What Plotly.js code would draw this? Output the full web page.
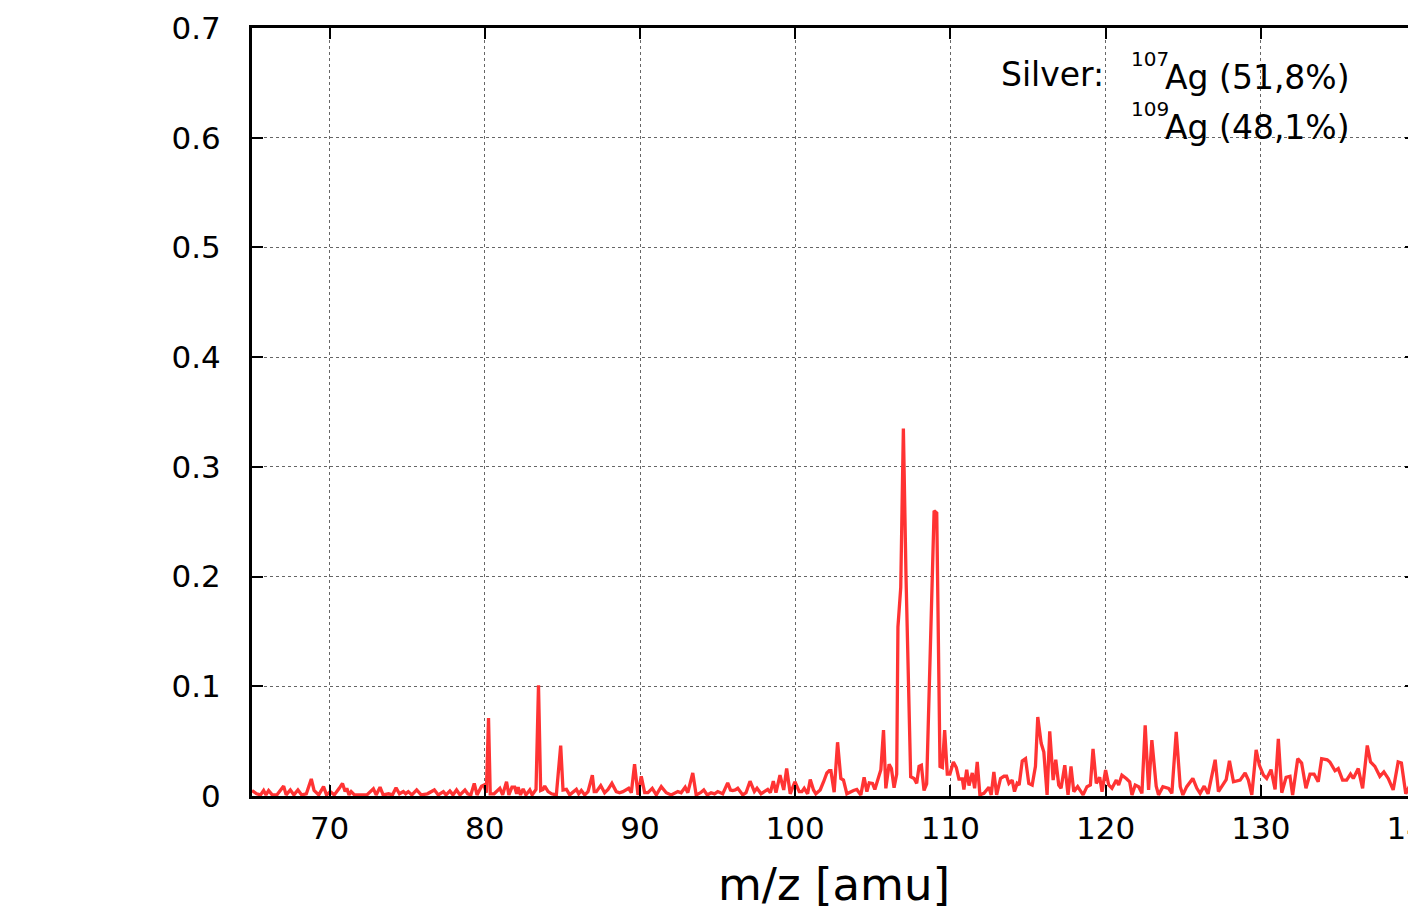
<!DOCTYPE html>
<html>
<head>
<meta charset="utf-8">
<script src="https://cdn.plot.ly/plotly-3.0.1.min.js"></script>
<style>
html,body{margin:0;padding:0;background:#fff;overflow:hidden;}
#chart{width:1500px;height:912px;}
</style>
</head>
<body>
<div id="chart"></div>
<script>
const mz = [
65.00,65.30,65.55,65.75,65.90,66.07,66.30,66.60,67.04,67.20,67.47,67.70,67.96,68.20,68.50,68.82,69.00,69.30,69.61,69.80,
70.04,70.30,70.62,70.83,71.00,71.11,71.25,71.39,71.60,72.00,72.40,72.82,73.00,73.25,73.45,73.80,74.05,74.28,74.50,74.75,
74.90,75.07,75.30,75.61,75.90,76.30,76.75,77.00,77.33,77.50,77.75,77.95,78.18,78.40,78.72,78.90,79.10,79.32,79.50,79.79,
79.94,80.10,80.24,80.35,80.60,80.97,81.15,81.40,81.55,81.75,81.93,82.05,82.15,82.30,82.47,82.65,82.90,83.05,83.30,83.46,
83.60,83.75,83.86,84.08,84.30,84.61,84.89,85.04,85.26,85.47,85.90,86.05,86.22,86.44,86.65,86.93,87.05,87.19,87.47,87.72,
87.94,88.19,88.47,88.68,88.90,89.27,89.44,89.65,89.87,90.08,90.30,90.51,90.79,91.05,91.37,91.69,92.01,92.44,92.65,92.91,
93.08,93.40,93.62,93.90,94.11,94.33,94.58,94.80,95.01,95.33,95.65,95.83,95.98,96.14,96.30,96.62,96.83,97.09,97.37,97.54,
97.80,98.01,98.23,98.40,98.59,98.76,99.02,99.26,99.45,99.68,99.98,100.26,100.43,100.58,100.80,100.97,101.18,101.33,101.61,101.83,
102.04,102.19,102.30,102.51,102.73,102.94,103.11,103.33,103.59,103.76,103.97,104.23,104.44,104.62,104.77,104.98,105.13,105.52,105.69,105.84,
106.05,106.20,106.37,106.54,106.62,106.80,106.97,107.14,107.44,107.66,107.83,107.98,108.13,108.30,108.47,108.95,109.12,109.33,109.48,109.63,
109.80,109.97,110.19,110.38,110.55,110.77,110.87,111.05,111.20,111.41,111.56,111.73,111.90,112.16,112.48,112.63,112.80,112.98,113.23,113.45,
113.62,113.77,113.98,114.13,114.30,114.43,114.63,114.84,115.05,115.27,115.48,115.63,115.85,116.02,116.23,116.40,116.62,116.79,116.98,117.13,
117.37,117.58,117.77,117.95,118.20,118.55,118.80,119.02,119.19,119.40,119.62,119.77,120.00,120.20,120.41,120.69,120.84,121.05,121.33,121.55,
121.70,121.91,122.13,122.34,122.55,122.77,122.98,123.26,123.41,123.69,124.06,124.27,124.55,124.81,124.98,125.23,125.62,125.88,126.09,126.35,
126.60,127.06,127.27,127.55,127.77,127.98,128.24,128.67,128.99,129.20,129.42,129.70,129.91,130.17,130.38,130.66,130.92,131.13,131.35,131.63,
131.88,132.05,132.38,132.63,132.91,133.17,133.43,133.70,133.92,134.28,134.45,134.78,134.99,135.27,135.53,135.78,135.96,136.28,136.56,136.86,
137.07,137.35,137.67,137.93,138.21,138.53,138.85,139.06,139.34,139.60
];
const intensity = [
0.005,0.002,0.001,0.005,0.001,0.005,0.001,0.001,0.009,0.001,0.0055,0.001,0.0055,0.001,0.002,0.0155,0.005,0.001,0.0085,0.001,
0.004,0.001,0.007,0.0115,0.004,0.007,0.001,0.004,0.001,0.001,0.001,0.0065,0.001,0.008,0.001,0.002,0.001,0.0075,0.002,0.004,
0.002,0.004,0.001,0.0055,0.001,0.002,0.0055,0.001,0.004,0.001,0.0045,0.001,0.0055,0.001,0.0055,0.002,0.001,0.0115,0.001,0.009,
0.010,0.003,0.071,0.002,0.002,0.007,0.001,0.013,0.001,0.008,0.008,0.002,0.008,0.001,0.0065,0.001,0.0055,0.001,0.006,0.101,
0.005,0.006,0.009,0.004,0.002,0.001,0.046,0.0055,0.006,0.001,0.006,0.002,0.005,0.001,0.004,0.019,0.004,0.004,0.0095,0.003,
0.006,0.0115,0.004,0.003,0.004,0.007,0.003,0.029,0.001,0.018,0.003,0.003,0.007,0.001,0.0085,0.003,0.001,0.004,0.003,0.008,
0.003,0.021,0.001,0.003,0.0055,0.001,0.003,0.002,0.004,0.002,0.012,0.0055,0.005,0.0055,0.007,0.001,0.003,0.0135,0.004,0.007,
0.002,0.004,0.006,0.003,0.0135,0.003,0.019,0.0055,0.025,0.002,0.013,0.004,0.004,0.007,0.002,0.015,0.0055,0.002,0.0055,0.013,
0.021,0.023,0.023,0.0035,0.049,0.016,0.0145,0.002,0.004,0.005,0.006,0.001,0.017,0.004,0.012,0.0115,0.006,0.024,0.060,0.007,
0.029,0.025,0.0075,0.020,0.154,0.190,0.335,0.200,0.0176,0.016,0.0115,0.027,0.028,0.005,0.011,0.260,0.258,0.027,0.026,0.060,
0.020,0.020,0.031,0.026,0.0155,0.0155,0.006,0.024,0.0095,0.021,0.007,0.031,0.001,0.0025,0.008,0.001,0.022,0.001,0.016,0.018,
0.018,0.0115,0.0145,0.004,0.0115,0.010,0.032,0.034,0.0115,0.010,0.027,0.072,0.048,0.040,0.001,0.059,0.0145,0.033,0.010,0.007,
0.028,0.001,0.027,0.004,0.0085,0.001,0.0085,0.010,0.043,0.0115,0.017,0.004,0.0236,0.010,0.007,0.0145,0.010,0.019,0.016,0.013,
0.001,0.010,0.0085,0.0024,0.0645,0.0055,0.051,0.009,0.001,0.0085,0.007,0.0024,0.0585,0.0085,0.001,0.0085,0.016,0.007,0.0024,0.009,
0.002,0.033,0.004,0.0095,0.015,0.032,0.013,0.0145,0.021,0.0145,0.001,0.042,0.028,0.019,0.016,0.024,0.006,0.052,0.003,0.017,
0.018,0.001,0.034,0.030,0.007,0.020,0.020,0.013,0.034,0.033,0.031,0.023,0.025,0.0145,0.0145,0.020,0.016,0.025,0.007,0.046,
0.031,0.027,0.018,0.022,0.016,0.0055,0.031,0.030,0.002,0.0095
];
const xTickVals = [70,80,90,100,110,120,130,140];
const yTickVals = [0,0.1,0.2,0.3,0.4,0.5,0.6,0.7];
const yTickText = ['0','0.1','0.2','0.3','0.4','0.5','0.6','0.7'];
const labelSilver = 'Silver:';
const isotopeMass = ['107','109'];
const isotopeText = ['Ag (51,8%)','Ag (48,1%)'];

const FONT = 'DejaVu Sans, sans-serif';

const trace = {
  x: mz, y: intensity, type: 'scatter', mode: 'lines',
  line: {color: 'rgb(255,51,51)', width: 3.3},
  hoverinfo: 'skip'
};

const axisCommon = {
  showline: true, linecolor: '#000', linewidth: 3, mirror: 'ticks',
  ticks: 'inside', ticklen: 11, tickwidth: 2, tickcolor: '#000',
  showgrid: true, gridcolor: '#666', gridwidth: 1, griddash: 'dot',
  zeroline: false,
  tickfont: {family: FONT, size: 31, color: '#000'}
};

const W = 1164, H = 768, L = 252, T = 28;
function px(x){ return (x - L) / W; }
function py(y){ return (T + H - y) / H; }

const annotations = [
  {text: labelSilver, x: px(1106), y: py(75), xanchor: 'right', yanchor: 'middle'},
  {text: isotopeMass[0], x: px(1129), y: py(59), xanchor: 'left', yanchor: 'middle', size: 20},
  {text: isotopeText[0], x: px(1163), y: py(77), xanchor: 'left', yanchor: 'middle'},
  {text: isotopeMass[1], x: px(1129), y: py(109), xanchor: 'left', yanchor: 'middle', size: 20},
  {text: isotopeText[1], x: px(1163), y: py(127), xanchor: 'left', yanchor: 'middle'}
].map(a => ({
  text: a.text, x: a.x, y: a.y, xref: 'paper', yref: 'paper',
  xanchor: a.xanchor, yanchor: a.yanchor, showarrow: false,
  font: {family: FONT, size: a.size || 33, color: '#000'}
}));

const layout = {
  width: 1500, height: 912,
  margin: {l: L, r: 1500 - L - W, t: T, b: 912 - T - H, pad: 0},
  paper_bgcolor: '#fff', plot_bgcolor: '#fff',
  showlegend: false,
  xaxis: Object.assign({}, axisCommon, {
    range: [65, 140], tickvals: xTickVals, ticklabelstandoff: 3,
    title: {text: 'm/z [amu]', font: {family: FONT, size: 45, color: '#000'}, standoff: 24}
  }),
  yaxis: Object.assign({}, axisCommon, {
    range: [0, 0.7], tickvals: yTickVals, ticktext: yTickText, ticklabelstandoff: 22
  }),
  annotations: annotations
};

Plotly.newPlot('chart', [trace], layout, {displayModeBar: false, staticPlot: true});
</script>
</body>
</html>
